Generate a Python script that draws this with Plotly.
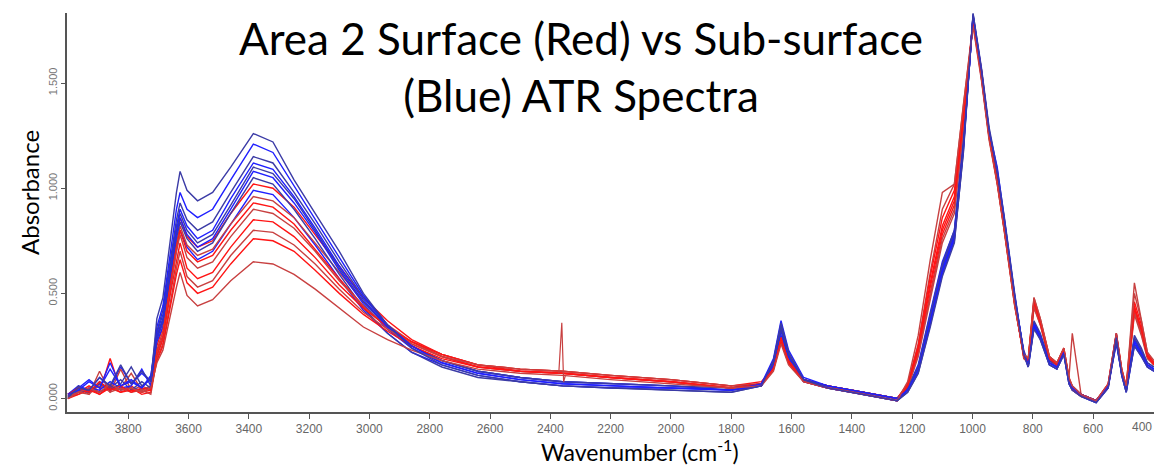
import plotly.graph_objects as go

W = [4000, 3965, 3930, 3895, 3860, 3825, 3790, 3755, 3725,
     3705, 3685, 3660, 3640, 3628, 3605, 3570,
     3520, 3460, 3385, 3320, 3250, 3180, 3100, 3020, 2940, 2860, 2760, 2640, 2500, 2360, 2200,
     2000, 1800, 1700, 1660, 1635, 1610, 1560, 1480, 1400, 1320, 1250,
     1215, 1180, 1140, 1100, 1060, 1030, 998, 970, 945, 918, 895, 860, 830, 815, 796, 775,
     745, 720, 697, 680, 669, 640, 590, 550, 523, 505, 490, 463, 440, 420, 398]

# Sub-surface spectra (blue)
B1 = [0.01, 0.05, 0.04, 0.10, 0.06, 0.16, 0.07, 0.13, 0.08,
      0.38, 0.48, 0.75, 0.98, 1.08, 0.99, 0.94,
      0.98, 1.10, 1.26, 1.22, 1.04, 0.88, 0.70, 0.50, 0.35, 0.24, 0.16, 0.11, 0.08, 0.06, 0.05,
      0.04, 0.03, 0.06, 0.18, 0.36, 0.22, 0.09, 0.05, 0.03, 0.01, -0.01,
      0.03, 0.12, 0.34, 0.58, 0.74, 1.18, 1.83, 1.56, 1.28, 1.08, 0.86, 0.49, 0.21, 0.15, 0.33, 0.28,
      0.16, 0.14, 0.21, 0.07, 0.04, 0.01, -0.02, 0.05, 0.29, 0.11, 0.03, 0.25, 0.20, 0.15, 0.13]
B2 = [0.02, 0.04, 0.08, 0.05, 0.17, 0.06, 0.09, 0.05, 0.10,
      0.34, 0.44, 0.70, 0.90, 0.98, 0.90, 0.86,
      0.90, 1.04, 1.21, 1.17, 1.01, 0.85, 0.67, 0.49, 0.35, 0.25, 0.17, 0.12, 0.09, 0.07, 0.06,
      0.05, 0.04, 0.07, 0.19, 0.37, 0.23, 0.10, 0.06, 0.04, 0.02, 0.00,
      0.04, 0.13, 0.36, 0.60, 0.76, 1.19, 1.82, 1.55, 1.27, 1.10, 0.86, 0.49, 0.22, 0.16, 0.35, 0.29,
      0.17, 0.15, 0.22, 0.08, 0.05, 0.02, -0.01, 0.06, 0.30, 0.12, 0.04, 0.27, 0.21, 0.16, 0.14]
B3 = [0.00, 0.06, 0.03, 0.08, 0.04, 0.07, 0.15, 0.06, 0.09,
      0.32, 0.42, 0.66, 0.85, 0.93, 0.85, 0.80,
      0.84, 0.98, 1.15, 1.12, 0.98, 0.83, 0.65, 0.48, 0.35, 0.25, 0.18, 0.13, 0.10, 0.08, 0.07,
      0.06, 0.05, 0.07, 0.17, 0.34, 0.21, 0.09, 0.06, 0.04, 0.02, 0.00,
      0.05, 0.15, 0.40, 0.64, 0.80, 1.22, 1.81, 1.54, 1.26, 1.06, 0.84, 0.47, 0.23, 0.17, 0.37, 0.31,
      0.18, 0.16, 0.23, 0.09, 0.06, 0.02, -0.01, 0.06, 0.27, 0.12, 0.05, 0.29, 0.23, 0.17, 0.15]
B4 = [0.01, 0.03, 0.05, 0.04, 0.08, 0.05, 0.06, 0.14, 0.06,
      0.31, 0.40, 0.64, 0.82, 0.90, 0.82, 0.76,
      0.80, 0.95, 1.12, 1.09, 0.96, 0.81, 0.63, 0.47, 0.34, 0.25, 0.18, 0.13, 0.10, 0.08, 0.07,
      0.06, 0.04, 0.06, 0.16, 0.34, 0.20, 0.09, 0.06, 0.04, 0.02, 0.00,
      0.04, 0.14, 0.37, 0.61, 0.77, 1.20, 1.82, 1.56, 1.27, 1.07, 0.85, 0.48, 0.22, 0.16, 0.36, 0.30,
      0.17, 0.15, 0.22, 0.08, 0.05, 0.02, -0.01, 0.06, 0.28, 0.12, 0.04, 0.28, 0.22, 0.16, 0.14]
B5 = [0.00, 0.04, 0.03, 0.07, 0.05, 0.09, 0.04, 0.08, 0.05,
      0.30, 0.38, 0.62, 0.80, 0.88, 0.80, 0.74,
      0.78, 0.92, 1.10, 1.07, 0.95, 0.80, 0.62, 0.46, 0.34, 0.25, 0.18, 0.13, 0.10, 0.08, 0.07,
      0.06, 0.04, 0.07, 0.17, 0.33, 0.20, 0.09, 0.06, 0.04, 0.02, 0.00,
      0.04, 0.14, 0.38, 0.62, 0.78, 1.20, 1.82, 1.55, 1.27, 1.07, 0.85, 0.48, 0.22, 0.16, 0.36, 0.30,
      0.17, 0.15, 0.22, 0.08, 0.05, 0.02, -0.01, 0.06, 0.28, 0.12, 0.04, 0.28, 0.22, 0.16, 0.14]
B6 = [0.02, 0.05, 0.09, 0.05, 0.14, 0.06, 0.08, 0.05, 0.11,
      0.29, 0.37, 0.60, 0.78, 0.86, 0.78, 0.72,
      0.76, 0.90, 1.08, 1.05, 0.93, 0.79, 0.61, 0.45, 0.33, 0.24, 0.17, 0.12, 0.09, 0.07, 0.06,
      0.05, 0.04, 0.06, 0.16, 0.32, 0.19, 0.08, 0.05, 0.03, 0.01, -0.01,
      0.05, 0.16, 0.41, 0.65, 0.80, 1.23, 1.82, 1.53, 1.25, 1.05, 0.83, 0.46, 0.21, 0.15, 0.34, 0.29,
      0.16, 0.14, 0.21, 0.07, 0.04, 0.01, -0.02, 0.05, 0.27, 0.11, 0.03, 0.26, 0.21, 0.15, 0.13]
B7 = [0.01, 0.03, 0.04, 0.03, 0.06, 0.04, 0.05, 0.04, 0.06,
      0.28, 0.36, 0.58, 0.76, 0.84, 0.76, 0.70,
      0.74, 0.88, 1.05, 1.02, 0.90, 0.76, 0.59, 0.43, 0.31, 0.22, 0.15, 0.10, 0.08, 0.06, 0.05,
      0.04, 0.03, 0.06, 0.18, 0.35, 0.21, 0.09, 0.05, 0.03, 0.01, -0.01,
      0.03, 0.12, 0.35, 0.59, 0.75, 1.17, 1.83, 1.57, 1.29, 1.09, 0.87, 0.50, 0.21, 0.15, 0.34, 0.28,
      0.16, 0.14, 0.21, 0.07, 0.04, 0.01, -0.02, 0.05, 0.31, 0.11, 0.03, 0.30, 0.24, 0.17, 0.15]
B8 = [0.02, 0.06, 0.04, 0.10, 0.05, 0.15, 0.07, 0.12, 0.08,
      0.27, 0.34, 0.55, 0.72, 0.80, 0.72, 0.66,
      0.70, 0.83, 0.99, 0.97, 0.86, 0.73, 0.57, 0.42, 0.31, 0.22, 0.16, 0.11, 0.08, 0.06, 0.05,
      0.05, 0.04, 0.06, 0.15, 0.30, 0.18, 0.08, 0.05, 0.03, 0.01, -0.01,
      0.04, 0.15, 0.39, 0.63, 0.79, 1.21, 1.81, 1.54, 1.26, 1.06, 0.84, 0.47, 0.22, 0.16, 0.35, 0.29,
      0.17, 0.15, 0.22, 0.08, 0.05, 0.02, -0.01, 0.06, 0.26, 0.12, 0.04, 0.25, 0.20, 0.15, 0.13]

# Surface spectra (red)
R1 = [0.01, 0.03, 0.06, 0.03, 0.19, 0.04, 0.06, 0.03, 0.05,
      0.25, 0.34, 0.60, 0.78, 0.86, 0.77, 0.72,
      0.75, 0.88, 1.02, 1.00, 0.91, 0.78, 0.63, 0.48, 0.37, 0.28, 0.21, 0.16, 0.13, 0.12, 0.10,
      0.08, 0.05, 0.07, 0.15, 0.30, 0.19, 0.09, 0.06, 0.04, 0.02, 0.00,
      0.06, 0.24, 0.55, 0.82, 0.96, 1.32, 1.80, 1.54, 1.25, 1.03, 0.81, 0.45, 0.20, 0.18, 0.46, 0.37,
      0.19, 0.16, 0.23, 0.09, 0.05, 0.02, -0.01, 0.06, 0.30, 0.13, 0.05, 0.44, 0.33, 0.21, 0.17]
R2 = [0.00, 0.05, 0.02, 0.07, 0.03, 0.14, 0.04, 0.06, 0.04,
      0.23, 0.32, 0.57, 0.74, 0.82, 0.73, 0.68,
      0.71, 0.83, 0.96, 0.94, 0.86, 0.74, 0.60, 0.46, 0.35, 0.27, 0.20, 0.15, 0.13, 0.12, 0.10,
      0.08, 0.05, 0.07, 0.15, 0.29, 0.19, 0.09, 0.06, 0.04, 0.02, 0.00,
      0.07, 0.26, 0.60, 0.90, 1.02, 1.38, 1.79, 1.53, 1.24, 1.02, 0.80, 0.44, 0.21, 0.19, 0.48, 0.38,
      0.20, 0.17, 0.24, 0.10, 0.31, 0.02, -0.01, 0.07, 0.31, 0.14, 0.05, 0.55, 0.38, 0.22, 0.17]
R3 = [0.01, 0.02, 0.05, 0.02, 0.06, 0.03, 0.05, 0.02, 0.03,
      0.22, 0.30, 0.55, 0.72, 0.80, 0.70, 0.65,
      0.68, 0.80, 0.93, 0.91, 0.83, 0.71, 0.57, 0.44, 0.34, 0.26, 0.20, 0.15, 0.13, 0.12, 0.10,
      0.08, 0.05, 0.07, 0.15, 0.29, 0.19, 0.09, 0.06, 0.04, 0.02, 0.00,
      0.06, 0.22, 0.50, 0.78, 0.92, 1.30, 1.80, 1.55, 1.26, 1.04, 0.82, 0.46, 0.20, 0.18, 0.45, 0.36,
      0.19, 0.16, 0.23, 0.09, 0.05, 0.02, -0.01, 0.06, 0.30, 0.13, 0.05, 0.42, 0.32, 0.20, 0.16]
R4 = [0.02, 0.04, 0.03, 0.06, 0.04, 0.05, 0.12, 0.04, 0.06,
      0.21, 0.29, 0.53, 0.70, 0.78, 0.67, 0.62,
      0.65, 0.77, 0.90, 0.88, 0.81, 0.70, 0.56, 0.44, 0.34, 0.27, 0.21, 0.16, 0.14, 0.13, 0.11,
      0.09, 0.06, 0.07, 0.14, 0.28, 0.18, 0.09, 0.06, 0.04, 0.02, 0.00,
      0.05, 0.20, 0.47, 0.74, 0.88, 1.28, 1.81, 1.56, 1.27, 1.05, 0.83, 0.47, 0.19, 0.17, 0.43, 0.35,
      0.18, 0.15, 0.22, 0.09, 0.04, 0.01, -0.01, 0.06, 0.29, 0.12, 0.04, 0.40, 0.30, 0.19, 0.16]
R5 = [0.00, 0.02, 0.04, 0.02, 0.05, 0.03, 0.04, 0.03, 0.04,
      0.20, 0.28, 0.50, 0.66, 0.74, 0.62, 0.57,
      0.60, 0.72, 0.85, 0.84, 0.77, 0.67, 0.54, 0.43, 0.34, 0.27, 0.21, 0.16, 0.14, 0.13, 0.11,
      0.09, 0.06, 0.08, 0.15, 0.28, 0.18, 0.09, 0.06, 0.04, 0.02, 0.00,
      0.07, 0.25, 0.58, 0.86, 0.99, 1.35, 1.78, 1.52, 1.24, 1.03, 0.81, 0.45, 0.21, 0.19, 0.47, 0.37,
      0.20, 0.17, 0.24, 0.10, 0.06, 0.02, -0.01, 0.07, 0.31, 0.14, 0.06, 0.46, 0.35, 0.21, 0.17]
R6 = [0.01, 0.03, 0.02, 0.13, 0.03, 0.05, 0.03, 0.04, 0.02,
      0.19, 0.26, 0.47, 0.62, 0.70, 0.58, 0.53,
      0.56, 0.68, 0.80, 0.79, 0.73, 0.64, 0.52, 0.41, 0.33, 0.26, 0.20, 0.16, 0.14, 0.13, 0.11,
      0.09, 0.06, 0.07, 0.14, 0.27, 0.17, 0.08, 0.05, 0.04, 0.02, 0.00,
      0.05, 0.21, 0.49, 0.76, 0.90, 1.29, 1.80, 1.55, 1.26, 1.04, 0.82, 0.46, 0.20, 0.18, 0.44, 0.35,
      0.19, 0.16, 0.23, 0.09, 0.05, 0.02, -0.01, 0.06, 0.30, 0.13, 0.05, 0.41, 0.31, 0.20, 0.16]
R7 = [0.02, 0.05, 0.03, 0.08, 0.04, 0.06, 0.03, 0.05, 0.04,
      0.18, 0.25, 0.45, 0.59, 0.66, 0.55, 0.50,
      0.53, 0.64, 0.76, 0.75, 0.70, 0.61, 0.50, 0.40, 0.32, 0.25, 0.19, 0.15, 0.13, 0.12, 0.10,
      0.08, 0.05, 0.07, 0.14, 0.27, 0.17, 0.08, 0.05, 0.03, 0.01, -0.01,
      0.06, 0.23, 0.53, 0.80, 0.94, 1.33, 1.79, 1.53, 1.25, 1.03, 0.81, 0.45, 0.20, 0.18, 0.46, 0.36,
      0.19, 0.16, 0.23, 0.09, 0.05, 0.02, -0.01, 0.06, 0.30, 0.13, 0.05, 0.43, 0.33, 0.20, 0.16]
R8 = [0.00, 0.03, 0.05, 0.03, 0.07, 0.04, 0.05, 0.03, 0.05,
      0.17, 0.23, 0.40, 0.53, 0.60, 0.49, 0.44,
      0.47, 0.56, 0.65, 0.64, 0.59, 0.52, 0.43, 0.34, 0.28, 0.23, 0.18, 0.14, 0.12, 0.11, 0.09,
      0.07, 0.05, 0.06, 0.13, 0.26, 0.16, 0.08, 0.05, 0.03, 0.01, -0.01,
      0.08, 0.30, 0.66, 0.98, 1.02, 1.40, 1.77, 1.51, 1.23, 1.02, 0.80, 0.44, 0.21, 0.19, 0.48, 0.38,
      0.20, 0.17, 0.24, 0.10, 0.06, 0.02, -0.01, 0.07, 0.31, 0.14, 0.06, 0.50, 0.37, 0.22, 0.18]

# narrow CO2 spike on one surface spectrum
CO2_W = [2372, 2362, 2356, 2350]
CO2_A = [0.12, 0.36, 0.08, 0.11]

X_TICKS = [3800, 3600, 3400, 3200, 3000, 2800, 2600, 2400, 2200, 2000,
           1800, 1600, 1400, 1200, 1000, 800, 600]
EDGE_TICK_LABEL = "400"   # last tick, at the picture's right edge
Y_TICKS = [0.0, 0.5, 1.0, 1.5]

TITLE = "Area 2 Surface (Red) vs Sub-surface<br>(Blue) ATR Spectra"

blue_series = [B1, B2, B3, B4, B5, B6, B7, B8]
red_series = [R1, R2, R3, R4, R5, R6, R7, R8]
blue_cols = ["#1f1fff", "#3b3ba6"]
red_cols = ["#ff1414", "#c84040"]

fig = go.Figure()
for i in range(8):
    fig.add_trace(go.Scatter(x=W, y=red_series[i], mode="lines",
                             line=dict(color=red_cols[i % 2], width=1.4)))
    fig.add_trace(go.Scatter(x=W, y=blue_series[7 - i], mode="lines",
                             line=dict(color=blue_cols[i % 2], width=1.4)))
fig.add_trace(go.Scatter(x=CO2_W, y=CO2_A, mode="lines",
                         line=dict(color=red_cols[1], width=1.2)))

tickfont = dict(family="Liberation Sans, Arial, sans-serif", size=12, color="#666666")
fig.update_layout(
    width=1154, height=469,
    margin=dict(l=67, r=0, t=13, b=57),
    paper_bgcolor="white", plot_bgcolor="white",
    showlegend=False,
    xaxis=dict(range=[4003, 398], tickvals=X_TICKS, ticks="outside", ticklen=5,
               tickcolor="#555555", showline=True, linecolor="#555555", linewidth=2,
               showgrid=False, zeroline=False, tickfont=tickfont),
    yaxis=dict(range=[-0.064, 1.833], tickvals=Y_TICKS, tickformat=".3f", ticks="outside",
               ticklen=4, tickcolor="#555555", tickangle=-90, showline=True,
               linecolor="#555555", linewidth=2, showgrid=False, zeroline=False,
               tickfont=dict(family="Liberation Sans, Arial, sans-serif", size=11, color="#777777")),
    annotations=[
        dict(text=TITLE, xref="paper", yref="paper", x=0.473, y=0.865,
             xanchor="center", yanchor="middle", showarrow=False,
             font=dict(family="Lato", size=44, color="black")),
        dict(text="Wavenumber (cm<sup>-1</sup>)", xref="paper", yref="paper",
             x=0.527, y=-0.097, xanchor="center", yanchor="middle", showarrow=False,
             font=dict(family="Lato", size=23, color="black")),
        dict(text="Absorbance", xref="paper", yref="paper", x=-0.034, y=0.549,
             xanchor="center", yanchor="middle", textangle=-90, showarrow=False,
             font=dict(family="Lato", size=24, color="black")),
        dict(text=EDGE_TICK_LABEL, xref="paper", yref="paper", x=1.0, y=-0.037,
             xanchor="right", yanchor="middle", showarrow=False, font=tickfont),
    ],
)
fig.write_html("out.html", config={"displayModeBar": False},
               post_script="document.body.style.margin='0';document.body.style.overflow='hidden';")
